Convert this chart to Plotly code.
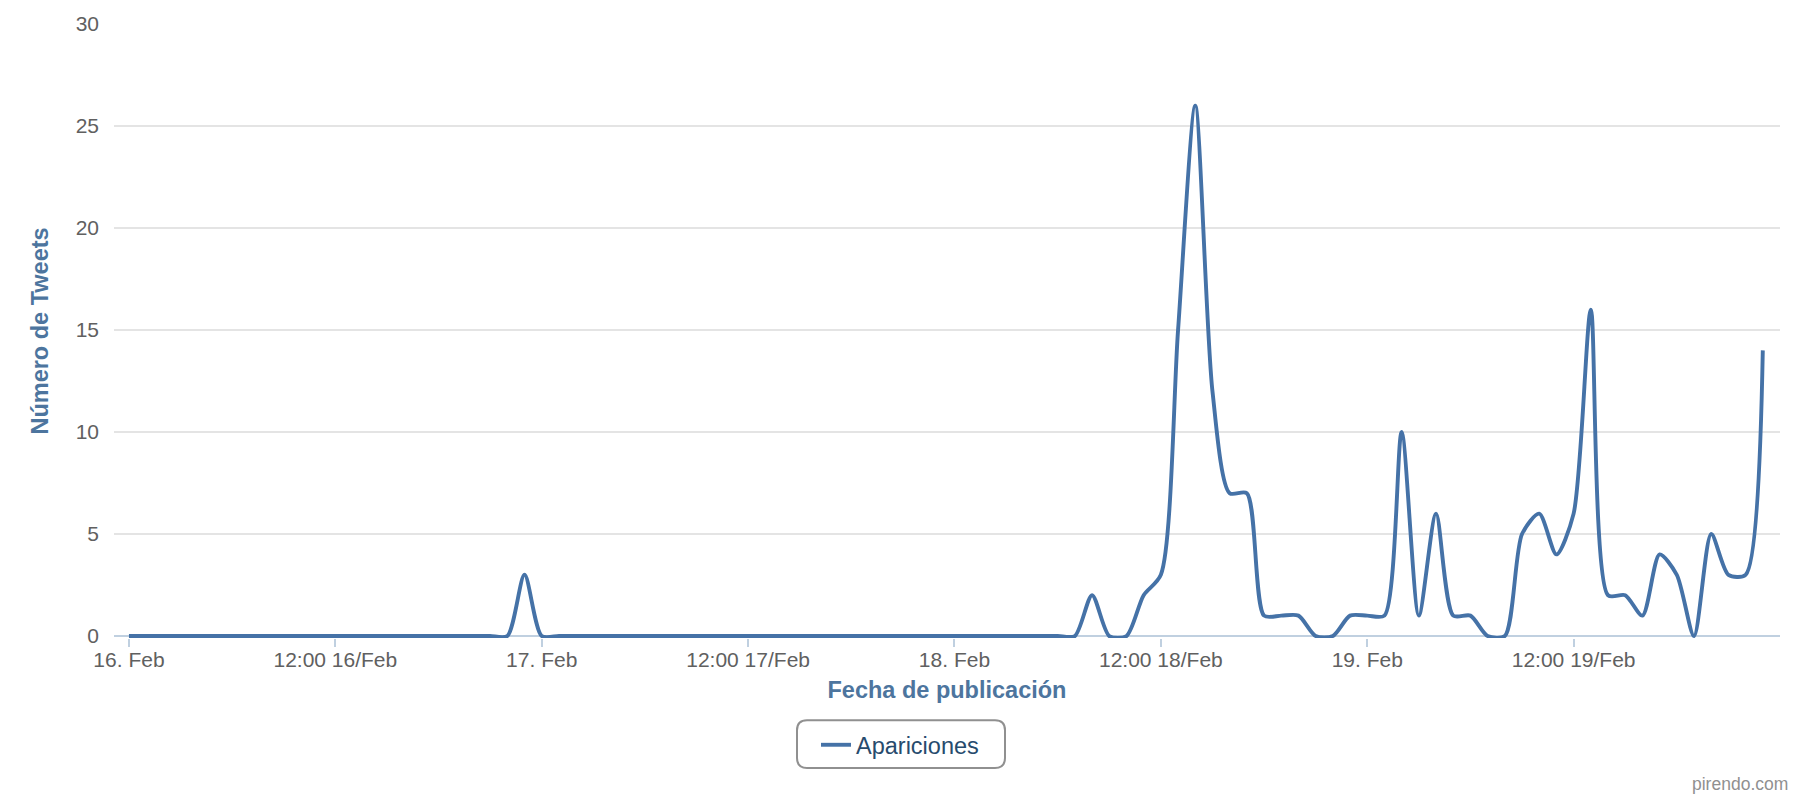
import pandas as pd
import plotly.graph_objects as go

# hourly tweet counts, 16 Feb 00:00 .. 19 Feb 23:00
start = "2014-02-16 00:00"
tweets_16feb = [0] * 23 + [3]
tweets_17feb = [0] * 24
tweets_18feb = [0] * 8 + [2, 0, 0, 2, 3, 15, 26, 12, 7, 7, 1, 1, 1, 0, 0, 1]
tweets_19feb = [1, 1, 10, 1, 6, 1, 1, 0, 0, 5, 6, 4, 6, 16, 2, 2, 1, 4, 3, 0, 5, 3, 3, 14]
tweets = tweets_16feb + tweets_17feb + tweets_18feb + tweets_19feb
hours = pd.date_range(start, periods=len(tweets), freq="h")

tick_labels = ["16. Feb", "12:00 16/Feb", "17. Feb", "12:00 17/Feb",
               "18. Feb", "12:00 18/Feb", "19. Feb", "12:00 19/Feb"]
tick_pos = pd.date_range(start, periods=len(tick_labels), freq="12h")

W, H = 1800, 800
L, R, T, B = 114, 1780, 19, 638    # plot area in px
ZERO_PX = 636                      # where y=0 sits (line must not be clipped)
px_per_unit = (ZERO_PX - T) / 30
y_lo = -(B - ZERO_PX) / px_per_unit

FONT = "Liberation Sans, Arial, Helvetica, sans-serif"
LINE = "#4572a7"
TITLE = "#4d759e"


def px_x(px):
    return (px - L) / (R - L)


def px_y(py):
    return (B - py) / (B - T)


def rounded_box(x0, y0, x1, y1, r):
    # legend frame with rounded corners, given in px, drawn in paper coords
    a, b, c, d = px_x(x0), px_y(y1), px_x(x1), px_y(y0)
    rx, ry = r / (R - L), r / (B - T)
    return (f"M{a+rx},{b} L{c-rx},{b} Q{c},{b} {c},{b+ry} L{c},{d-ry} "
            f"Q{c},{d} {c-rx},{d} L{a+rx},{d} Q{a},{d} {a},{d-ry} "
            f"L{a},{b+ry} Q{a},{b} {a+rx},{b} Z")


fig = go.Figure(go.Scatter(
    x=hours, y=tweets, name="Apariciones", mode="lines",
    line=dict(color=LINE, width=3.9, shape="spline", smoothing=0.75),
))

pad = pd.Timedelta(hours=0.87)
fig.update_xaxes(
    type="date", range=[hours[0] - pad, hours[0] + pd.Timedelta(hours=96)],
    tickvals=tick_pos, ticktext=tick_labels, showgrid=False, showline=False,
    ticks="outside", ticklen=8, tickwidth=2, tickcolor="#c0d0e0",
    ticklabelstandoff=-5,
    tickfont=dict(family=FONT, size=21, color="#606060"),
    title=dict(text="<b>Fecha de publicación</b>", standoff=11,
               font=dict(family=FONT, size=23.5, color=TITLE)),
)
fig.update_yaxes(
    range=[y_lo, 30], tickvals=[0, 5, 10, 15, 20, 25, 30],
    showgrid=True, gridcolor="#e4e4e4", gridwidth=1.5,
    zeroline=True, zerolinecolor="#c0d0e0", zerolinewidth=2,
    showline=False, ticks="", ticklabelstandoff=14,
    tickfont=dict(family=FONT, size=21, color="#606060"),
    title=dict(text="<b>Número de Tweets</b>", standoff=20,
               font=dict(family=FONT, size=23.5, color=TITLE)),
)

fig.add_shape(type="path", xref="paper", yref="paper",
              path=rounded_box(797, 721, 1005, 769, 10),
              line=dict(color="#909090", width=2), fillcolor="rgba(0,0,0,0)")
fig.add_annotation(text="pirendo.com", xref="paper", yref="paper",
                   x=px_x(1790), y=px_y(785), xanchor="right", yanchor="middle",
                   showarrow=False, font=dict(family=FONT, size=17.5, color="#909090"))

fig.update_layout(
    width=W, height=H, plot_bgcolor="white", paper_bgcolor="white",
    margin=dict(l=L, r=W - R, t=T, b=H - B),
    showlegend=True,
    legend=dict(orientation="h", xref="container", yref="container",
                x=0.5, xanchor="center", y=1 - 745 / H, yanchor="middle",
                bgcolor="rgba(0,0,0,0)", borderwidth=0,
                font=dict(family=FONT, size=23.5, color="#274b6d")),
)

# drop the browser's default 8px body margin so the figure sits at (0, 0)
fig.write_html("out.html", config={"displayModeBar": False},
               post_script="document.body.style.margin = '0';")
